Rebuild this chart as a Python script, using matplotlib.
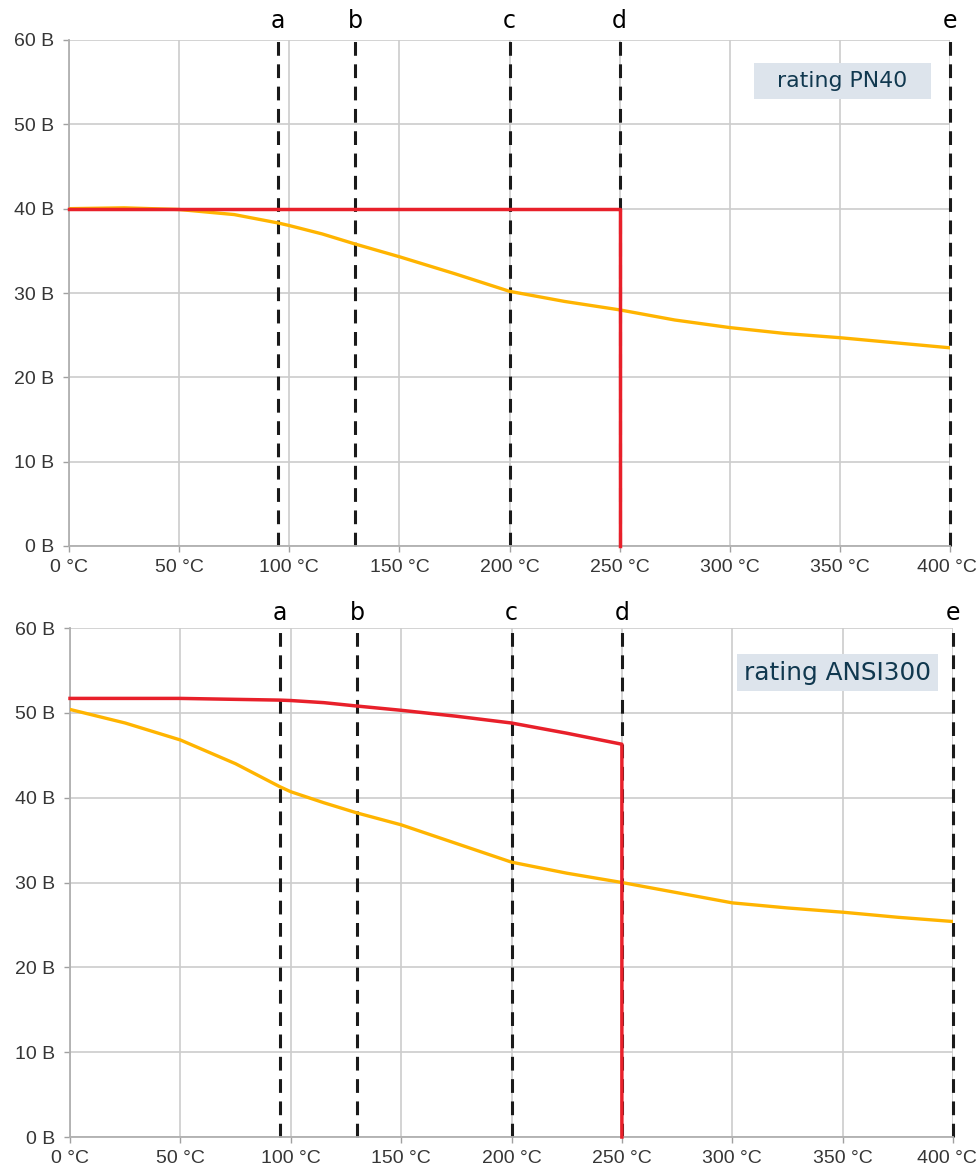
import numpy as np
import matplotlib
matplotlib.use("Agg")
import matplotlib.pyplot as plt
from matplotlib.patches import Rectangle
import matplotlib.transforms as mtransforms

# ---- data ----
temps = [0, 25, 50, 75, 95, 100, 115, 130, 150, 175, 200, 225, 250, 275, 300, 325, 350, 375, 400]

pn40_yellow = [40.0, 40.1, 39.9, 39.3, 38.3, 38.0, 37.0, 35.8, 34.3, 32.3, 30.2, 29.0, 28.0,
               26.8, 25.9, 25.2, 24.7, 24.1, 23.5]
pn40_red_x = [0, 250, 250]
pn40_red_y = [40, 40, 0]

ansi_yellow = [50.4, 48.8, 46.8, 44.0, 41.3, 40.7, 39.4, 38.2, 36.8, 34.6, 32.4, 31.1, 30.0,
               28.8, 27.6, 27.0, 26.5, 25.9, 25.4]
ansi_red_x = [0, 50, 95, 100, 115, 130, 150, 175, 200, 225, 250, 250]
ansi_red_y = [51.7, 51.7, 51.5, 51.45, 51.2, 50.8, 50.3, 49.6, 48.8, 47.6, 46.3, 0]

marker_x = [95, 130, 200, 250, 400]
marker_labels = ["a", "b", "c", "d", "e"]

x_ticks = [0, 50, 100, 150, 200, 250, 300, 350, 400]
y_ticks = [0, 10, 20, 30, 40, 50, 60]

RED = "#e8202a"
YELLOW = "#ffb400"
GRID = "#cccccc"


def draw_panel(fig, ax, yellow, red_x, red_y, label, box, label_size, letter_offset, last_shift):
    ax.set_xlim(0, 400)
    ax.set_ylim(0, 60)
    ax.set_xticks(x_ticks)
    ax.set_xticklabels([f"{v} °C" for v in x_ticks])
    ax.set_yticks(y_ticks)
    ax.set_yticklabels([f"{v} B" for v in y_ticks])
    ax.grid(True, color=GRID, linewidth=1.2)
    ax.set_axisbelow(True)
    for side in ("top", "right"):
        ax.spines[side].set_visible(False)
    for side in ("left", "bottom"):
        ax.spines[side].set_color("#b0b0b0")
        ax.spines[side].set_linewidth(1.3)
    ax.tick_params(axis="both", colors="#a0a0a0", length=4.5, width=1,
                   labelcolor="#363636", labelsize=14)
    ax.tick_params(axis="y", pad=6)
    ax.tick_params(axis="x", pad=5)
    for t in ax.get_xticklabels() + ax.get_yticklabels():
        t.set_fontfamily("Liberation Sans")
    # keep the last x label inside the picture
    last = ax.get_xticklabels()[-1]
    last.set_transform(last.get_transform() +
                       mtransforms.ScaledTranslation(-last_shift / 100, 0, fig.dpi_scale_trans))

    # dashed marker lines
    for x in marker_x:
        ax.plot([x, x], [0, 60], color="#1a1a1a", linewidth=2.2,
                dashes=(4.5, 2.8), zorder=2, clip_on=False)

    ax.plot(temps, yellow, color=YELLOW, linewidth=2.4, zorder=3, solid_joinstyle="round")
    ax.plot(red_x, red_y, color=RED, linewidth=2.5, zorder=4, clip_on=False)

    # letters above the panel
    trans = mtransforms.blended_transform_factory(ax.transData, ax.transAxes)
    for x, s in zip(marker_x, marker_labels):
        ax.annotate(s, xy=(x, 1.0), xycoords=trans, xytext=(0, letter_offset),
                    textcoords="offset points", ha="center", va="baseline",
                    fontsize=17, color="black", family="DejaVu Sans", annotation_clip=False)

    # rating box
    x0, y0, x1, y1 = box
    ax.add_patch(Rectangle((x0, y0), x1 - x0, y1 - y0, transform=ax.transAxes,
                           facecolor="#dde4ec", edgecolor="none", zorder=5))
    ax.text((x0 + x1) / 2, (y0 + y1) / 2, label, transform=ax.transAxes,
            ha="center", va="center", fontsize=label_size, color="#10384f",
            family="DejaVu Sans", zorder=6)


fig = plt.figure(figsize=(9.8, 11.69), dpi=100)
ax_top = fig.add_axes([69 / 980, 1 - 546 / 1169, 881 / 980, 506 / 1169])
ax_bot = fig.add_axes([70 / 980, 1 - 1137 / 1169, 883 / 980, 509 / 1169])

draw_panel(fig, ax_top, pn40_yellow, pn40_red_x, pn40_red_y, "rating PN40",
           (0.7775, 0.8834, 0.9784, 0.9545), 15.8, 8.5, 3)
draw_panel(fig, ax_bot, ansi_yellow, ansi_red_x, ansi_red_y, "rating ANSI300",
           (0.7554, 0.8762, 0.983, 0.9489), 17.8, 5.8, 6)

fig.savefig("out.png", dpi=100)
